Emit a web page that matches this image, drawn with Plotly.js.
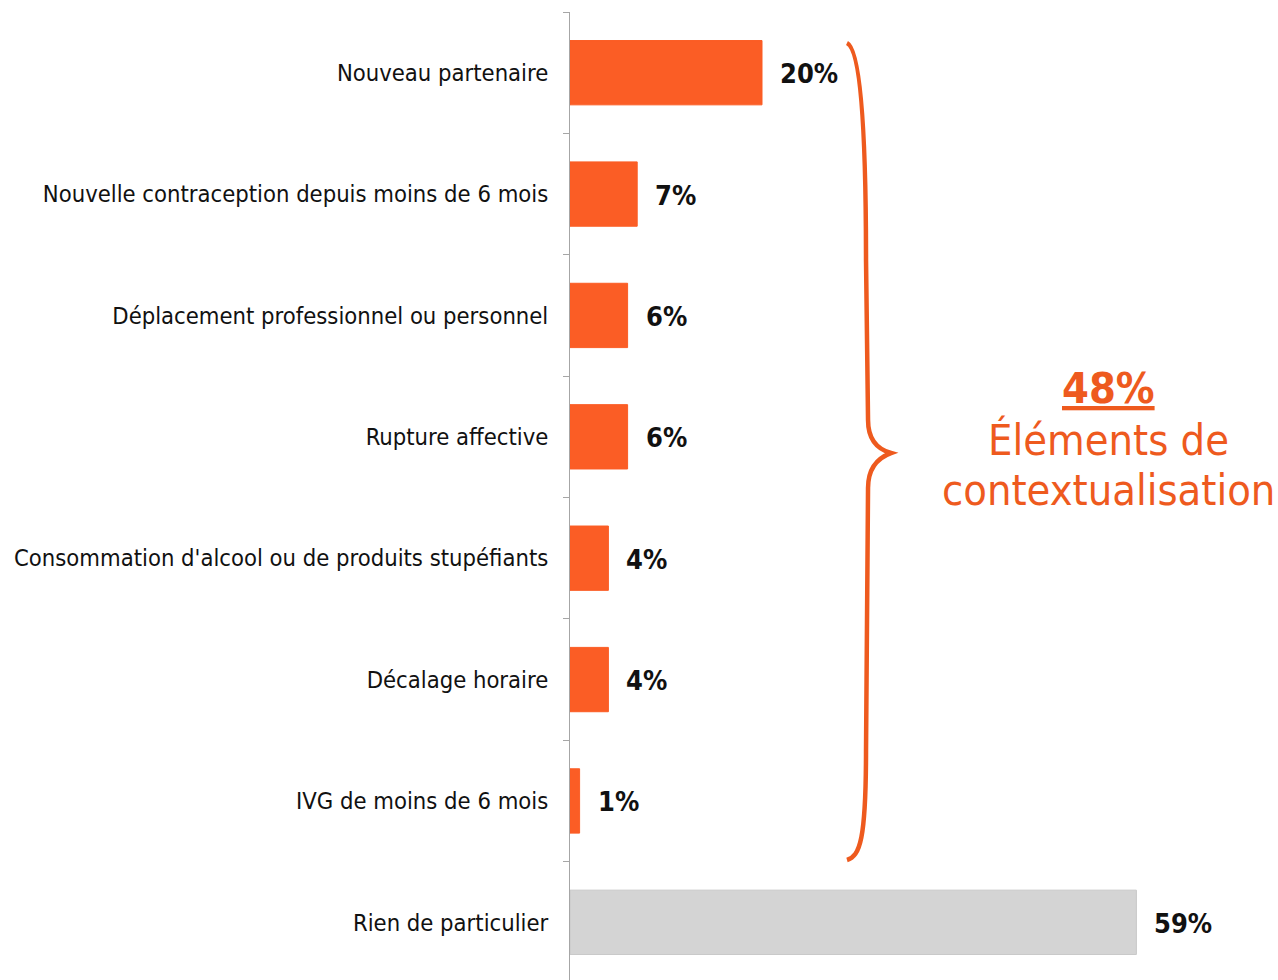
<!DOCTYPE html>
<html>
<head>
<meta charset="utf-8">
<script src="https://cdn.plot.ly/plotly-3.0.1.min.js"></script>
<style>html,body{margin:0;padding:0;background:#fff;overflow:hidden;}#chart{width:1278px;height:983px;}</style>
</head>
<body>
<div id="chart"></div>
<script>
const categories = [
  "Nouveau partenaire",
  "Nouvelle contraception depuis moins de 6 mois",
  "Déplacement professionnel ou personnel",
  "Rupture affective",
  "Consommation d'alcool ou de produits stupéfiants",
  "Décalage horaire",
  "IVG de moins de 6 mois",
  "Rien de particulier"
];
const values = [20, 7, 6, 6, 4, 4, 1, 59];
const valueLabels = ["20%", "7%", "6%", "6%", "4%", "4%", "1%", "59%"];
const groupTotal = "48%";
const groupLabel = ["Éléments de", "contextualisation"];

const ORANGE = "#FB5D25";
const GREY = "#D4D4D4";
const FONT = "'DejaVu Sans Condensed', 'DejaVu Sans', sans-serif";

const W = 1278, H = 983;
const M = {l: 570, r: 36, t: 12, b: 0};
const pw = W - M.l - M.r, ph = H - M.t - M.b;
const px = x => ((x - M.l) / pw).toFixed(4);
const py = y => ((H - M.b - y) / ph).toFixed(4);

const colors = categories.map((c, i) => i === categories.length - 1 ? GREY : ORANGE);
const lineColors = categories.map((c, i) => i === categories.length - 1 ? "#C8C8C8" : ORANGE);

const trace = {
  type: "bar",
  orientation: "h",
  y: categories,
  x: values,
  width: 0.53,
  marker: {color: colors, line: {color: lineColors, width: 1}},
  hoverinfo: "skip"
};

const annotations = values.map((v, i) => ({
  x: v, y: categories[i], xref: "x", yref: "y",
  text: valueLabels[i], showarrow: false,
  xanchor: "left", xshift: 16, yanchor: "middle", yshift: -1,
  font: {family: FONT, size: 27, color: "#111", weight: "bold"}
}));

const ORANGE_TXT = "#EE5A1E";
[["<b><u>" + groupTotal + "</u></b>", 388], [groupLabel[0], 440], [groupLabel[1], 490]].forEach(([t, y]) => {
  annotations.push({
    x: px(1108), y: py(y), xref: "paper", yref: "paper",
    text: t, showarrow: false, xanchor: "center", yanchor: "middle",
    font: {family: FONT, size: 43, color: ORANGE_TXT}
  });
});

const bracePts = `M ${px(847)},${py(43)} C ${px(862)},${py(50)} ${px(866)},${py(150)} ${px(866)},${py(260)} L ${px(868)},${py(420)} C ${px(868)},${py(442)} ${px(880)},${py(450)} ${px(891)},${py(453)} C ${px(880)},${py(457)} ${px(868)},${py(466)} ${px(868)},${py(488)} L ${px(866)},${py(750)} C ${px(866)},${py(840)} ${px(860)},${py(856)} ${px(847)},${py(860)}`;

const layout = {
  width: W, height: H,
  margin: M,
  paper_bgcolor: "#fff", plot_bgcolor: "#fff",
  showlegend: false,
  font: {family: FONT, size: 23.6, color: "#111"},
  xaxis: {range: [0, 70], visible: false, fixedrange: true},
  yaxis: {
    autorange: "reversed",
    showline: true, linecolor: "#A6A6A6", linewidth: 1,
    ticks: "outside", tickson: "boundaries", ticklen: 6, tickcolor: "#A6A6A6",
    ticklabelstandoff: 16,
    tickfont: {family: FONT, size: 23.6, color: "#111"},
    showgrid: false, zeroline: false, fixedrange: true
  },
  shapes: [{
    type: "path", xref: "paper", yref: "paper", path: bracePts,
    line: {color: ORANGE_TXT, width: 4.5}
  }],
  annotations: annotations
};

Plotly.newPlot("chart", [trace], layout, {displayModeBar: false, staticPlot: true});
</script>
</body>
</html>
